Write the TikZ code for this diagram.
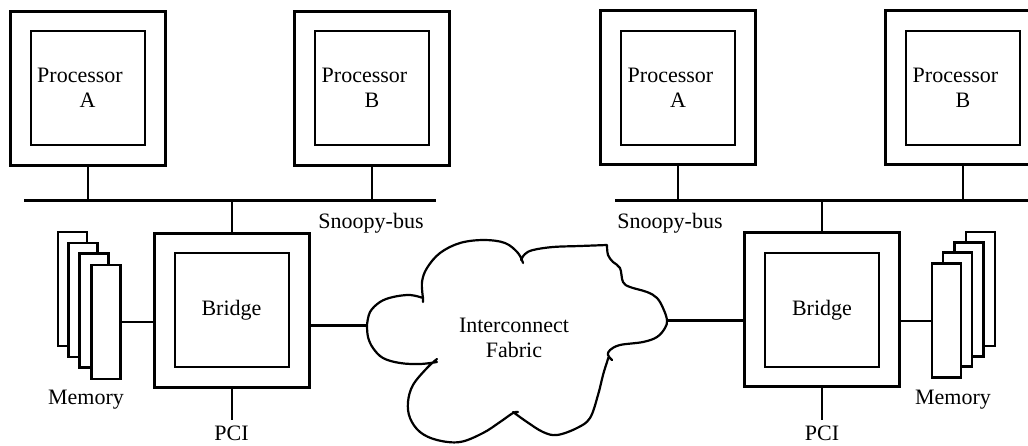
\documentclass[tikz,border=0pt]{standalone}
\usepackage{fontspec}
\setmainfont{Liberation Serif}
\begin{document}
\begin{tikzpicture}[x=1pt,y=-1pt,
  every node/.style={font=\fontsize{22}{25}\selectfont},
  outerbox/.style={draw, line width=3pt, minimum width=155pt, minimum height=154pt, inner sep=0pt},
  innerbox/.style={draw, line width=2pt, minimum width=114pt, minimum height=114pt, align=center, inner sep=0pt},
  memcard/.style={draw, fill=white, line width=2.8pt, minimum width=29pt, minimum height=114pt, inner sep=0pt},
  wire/.style={line width=2pt},
  busline/.style={line width=3pt},
  thickwire/.style={line width=3pt},
  cloudline/.style={line width=2.2pt, line join=round, line cap=round},
  lbl/.style={inner sep=0pt}]
\useasboundingbox (0,0) rectangle (1028,445);
\clip (0,0) rectangle (1028,445);

% ---------- left system ----------
\node[outerbox] (pAoutL) at (87.5,88) {};
\node[innerbox] (pAinL) at (87.5,88) {\hspace*{-15pt}Processor\\A};
\node[outerbox] (pBoutL) at (372,88) {};
\node[innerbox] (pBinL) at (372,88) {\hspace*{-15pt}Processor\\B};
\coordinate (busL1) at (24,200);
\coordinate (busL2) at (436,200);
\draw[busline] (busL1) -- (busL2);
\draw[wire] (pAoutL.south) -- (pAoutL.south |- busL1);
\draw[wire] (pBoutL.south) -- (pBoutL.south |- busL1);
\node[lbl] (snoopL) at (371,223) {Snoopy-bus};

\node[outerbox] (brOutL) at (231.5,310) {};
\node[innerbox] (brInL) at (231.5,310) {Bridge};
\draw[wire] (brOutL.north) -- (brOutL.north |- busL1);

\node[memcard] (memL1) at (72.5,289) {};
\node[memcard] (memL2) at (83,300) {};
\node[memcard] (memL3) at (94,310.5) {};
\node[memcard] (memL4) at (106,322) {};
\draw[wire] (memL4.east) -- (memL4.east -| brOutL.west);
\node[lbl] (memLabL) at (86,400) {Memory};

\coordinate (pciL) at (231.5,420);
\draw[wire] (brOutL.south) -- (pciL);
\node[lbl, anchor=base] (pciLabL) at (231.5,440) {PCI};

% ---------- right system ----------
\node[outerbox] (pAoutR) at (678,87) {};
\node[innerbox] (pAinR) at (678,87.5) {\hspace*{-15pt}Processor\\A};
\node[outerbox] (pBoutR) at (962.5,87) {};
\node[innerbox] (pBinR) at (963,87.5) {\hspace*{-15pt}Processor\\B};
\coordinate (busR1) at (615,200);
\coordinate (busR2) at (1030,200);
\draw[busline] (busR1) -- (busR2);
\draw[wire] (pAoutR.south) -- (pAoutR.south |- busR1);
\draw[wire] (pBinR.south |- pBoutR.south) -- (pBinR.south |- busR1);
\node[lbl] (snoopR) at (670,223) {Snoopy-bus};

\node[outerbox] (brOutR) at (822,309) {};
\node[innerbox] (brInR) at (822,310) {Bridge};
\draw[wire] (brOutR.north) -- (brOutR.north |- busR1);

\node[memcard] (memR1) at (980.5,289) {};
\node[memcard] (memR2) at (969,299.5) {};
\node[memcard] (memR3) at (957.5,309.5) {};
\node[memcard] (memR4) at (946.5,320.5) {};
\draw[wire] (memR4.west) -- (memR4.west -| brOutR.east);
\node[lbl] (memLabR) at (953,400) {Memory};

\coordinate (pciR) at (822,420);
\draw[wire] (brOutR.south) -- (pciR);
\node[lbl, anchor=base] (pciLabR) at (822,440) {PCI};

% ---------- cloud ----------
\coordinate (cloudL) at (367,325);
\coordinate (cloudR) at (667,320);
\draw[cloudline]
  plot[smooth, tension=0.6] coordinates {(367,325) (370,312) (380,302) (393,297) (410,295) (423,298)}
  -- (423,302)
  plot[smooth, tension=0.6] coordinates {(423,298) (422,282) (427,268) (440,253) (460,243) (484,240) (505,243) (518,253) (523,263)}
  plot[smooth, tension=0.6] coordinates {(521,260) (525,254) (533,250) (553,247) (580,246) (607,245)}
  plot[smooth, tension=0.6] coordinates {(607,245) (608,255) (613,262) (620,268) (623,282) (630,287) (647,292) (657,298) (663,308) (667,320) (665,328) (657,337) (643,342) (620,345) (610,350) (608,355) (612,360)}
  plot[smooth, tension=0.6] coordinates {(609,356) (607,362) (603,375) (598,395) (590,418) (577,428) (557,435) (543,432) (527,422) (513,412)}
  plot[smooth, tension=0.6] coordinates {(518,412) (513,413) (500,422) (483,433) (460,442) (437,440) (420,432) (410,418) (408,402) (413,385) (427,368) (437,359)}
  plot[smooth, tension=0.6] coordinates {(437,362) (420,364) (400,363) (383,358) (373,348) (368,337) (367,325)};
\node[lbl, align=center] (fabric) at (514,338) {Interconnect\\Fabric};

\draw[thickwire] (brOutL.east |- cloudL) -- (cloudL);
\draw[thickwire] (cloudR) -- (cloudR -| brOutR.west);
\end{tikzpicture}
\end{document}
